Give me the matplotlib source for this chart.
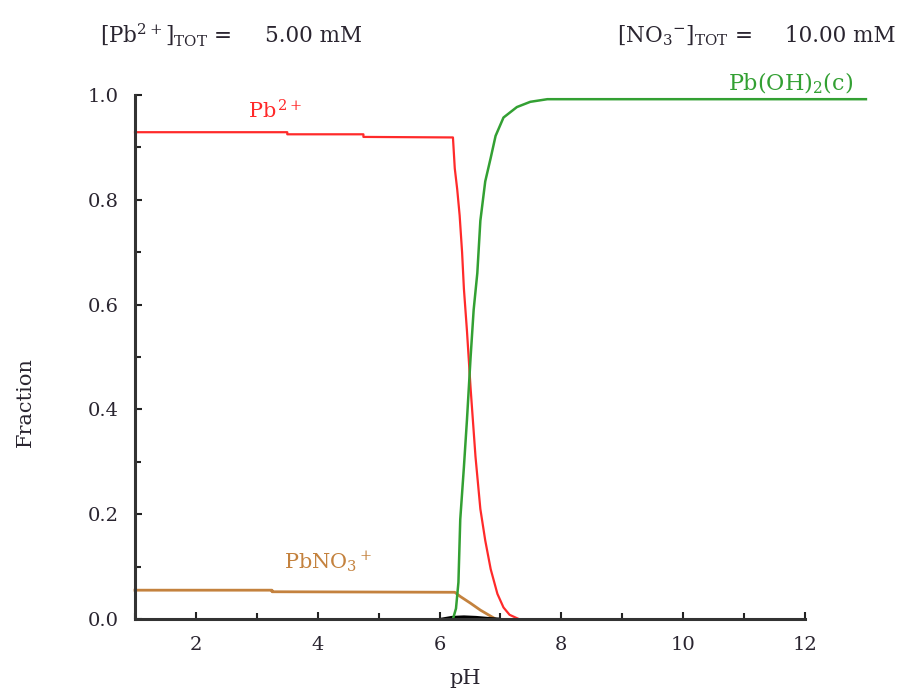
import matplotlib
matplotlib.use("Agg")
import matplotlib.pyplot as plt
from matplotlib.ticker import MultipleLocator

plt.rcParams['font.family'] = ['DejaVu Serif']
plt.rcParams['mathtext.fontset'] = 'dejavuserif'

# Speciation of Pb(II) in nitrate medium vs pH
ph_pb2 = [1.0, 3.5, 3.5, 4.75, 4.75, 6.22, 6.25, 6.29, 6.33, 6.37, 6.40, 6.45,
          6.51, 6.59, 6.67, 6.75, 6.84, 6.95, 7.05, 7.15, 7.30]
frac_pb2 = [0.929, 0.929, 0.925, 0.925, 0.920, 0.919, 0.86, 0.82, 0.77, 0.70,
            0.63, 0.55, 0.44, 0.31, 0.21, 0.15, 0.095, 0.048, 0.022, 0.008, 0.0]

ph_pboh2 = [6.22, 6.27, 6.31, 6.34, 6.40, 6.45, 6.51, 6.56, 6.62, 6.67, 6.75,
            6.84, 6.92, 7.05, 7.27, 7.49, 7.77, 13.0]
frac_pboh2 = [0.0, 0.02, 0.07, 0.19, 0.29, 0.38, 0.50, 0.59, 0.66, 0.76, 0.835,
              0.88, 0.922, 0.957, 0.977, 0.987, 0.992, 0.992]

ph_pbno3 = [1.0, 3.25, 3.25, 6.25, 6.34, 6.51, 6.67, 6.86, 6.92]
frac_pbno3 = [0.055, 0.055, 0.052, 0.051, 0.043, 0.030, 0.017, 0.004, 0.0]

ph_minor = [6.05, 6.2, 6.4, 6.6, 6.8, 6.95]
frac_minor = [0.0, 0.003, 0.004, 0.003, 0.001, 0.0]

pb_tot = 5.00
no3_tot = 10.00

c_red = '#ff2a2a'
c_green = '#33a033'
c_brown = '#c4823e'
c_text = '#2a2530'

fig = plt.figure(figsize=(9, 6.89), dpi=100)
ax = fig.add_axes([135 / 900, 1 - 619 / 689, (805 - 135) / 900, (619 - 95) / 689])

ax.plot(ph_pbno3, frac_pbno3, color=c_brown, lw=2.0, clip_on=False)
ax.plot(ph_minor, frac_minor, color='black', lw=2.2, clip_on=False)
ax.plot(ph_pb2, frac_pb2, color=c_red, lw=1.6, clip_on=False)
ax.plot(ph_pboh2, frac_pboh2, color=c_green, lw=1.8, clip_on=False)

ax.set_xlim(1, 12)
ax.set_ylim(0, 1)
for s in ('top', 'right'):
    ax.spines[s].set_visible(False)
for s in ('left', 'bottom'):
    ax.spines[s].set_color('#333333')
    ax.spines[s].set_linewidth(2.2)

ax.xaxis.set_major_locator(MultipleLocator(2))
ax.xaxis.set_minor_locator(MultipleLocator(1))
ax.yaxis.set_major_locator(MultipleLocator(0.2))
ax.yaxis.set_minor_locator(MultipleLocator(0.1))
ax.tick_params(which='both', direction='in', color='#222222', width=1.5,
               labelsize=14, labelcolor=c_text)
ax.tick_params(which='major', length=5)
ax.tick_params(which='minor', length=4)
ax.tick_params(axis='x', pad=12)
ax.tick_params(axis='y', pad=12)
ax.set_xticks([2, 4, 6, 8, 10, 12])
ax.set_yticks([0.0, 0.2, 0.4, 0.6, 0.8, 1.0])
ax.set_yticklabels(['0.0', '0.2', '0.4', '0.6', '0.8', '1.0'])

fig.text(465 / 900, 1 - 679 / 689, 'pH', fontsize=15, color=c_text,
         ha='center', va='center')
fig.text(25 / 900, 1 - 402 / 689, 'Fraction', fontsize=15, color=c_text,
         ha='center', va='center', rotation=90)

ax.text(2.85, 0.956, r'Pb$^{\,2+}$', color=c_red, fontsize=15, ha='left',
        va='baseline')
ax.text(3.44, 0.097, r'PbNO$_3$$^+$', color=c_brown, fontsize=15, ha='left',
        va='baseline')
ax.text(10.74, 1.008, r'Pb(OH)$_2$(c)', color=c_green, fontsize=16,
        ha='left', va='baseline', clip_on=False)

fig.text(100 / 900, 1 - 42 / 689, r'[Pb$^{2+}$]$_{\mathrm{TOT}}$ =',
         fontsize=15.5, color=c_text, va='baseline')
fig.text(265 / 900, 1 - 42 / 689, f'{pb_tot:.2f} mM',
         fontsize=15.5, color=c_text, va='baseline')
fig.text(617 / 900, 1 - 42 / 689, r'[NO$_3$$^{-}$]$_{\mathrm{TOT}}$ =',
         fontsize=15.5, color=c_text, va='baseline')
fig.text(785 / 900, 1 - 42 / 689, f'{no3_tot:.2f} mM',
         fontsize=15.5, color=c_text, va='baseline')

fig.savefig('out.png', dpi=100, facecolor='white')
